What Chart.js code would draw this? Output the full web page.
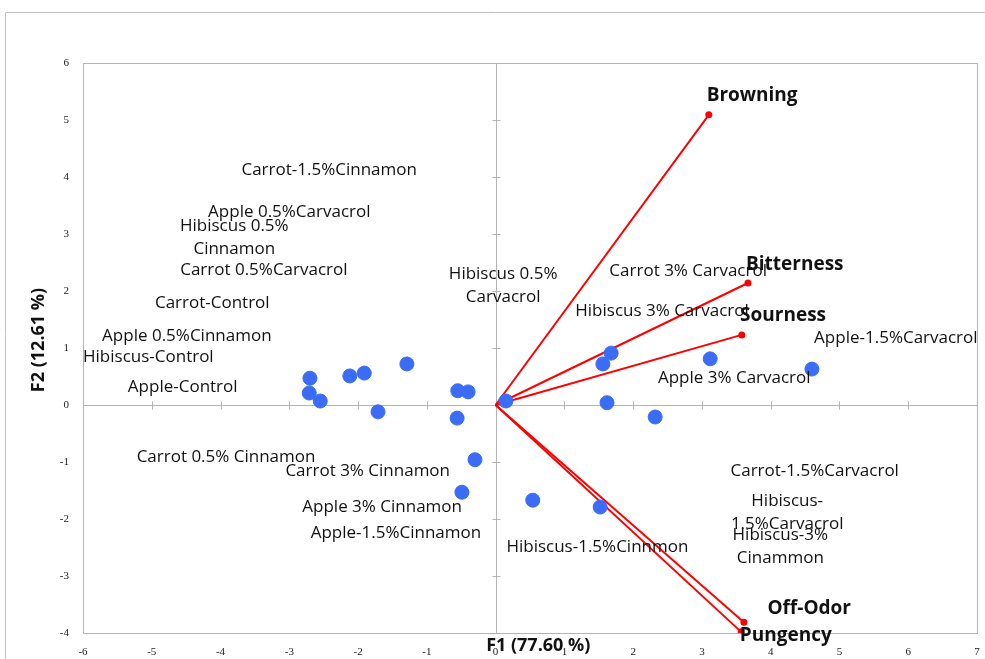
<!DOCTYPE html>
<html>
<head>
<meta charset="utf-8">
<script src="https://cdn.jsdelivr.net/npm/chart.js@4.4.1/dist/chart.umd.min.js"></script>
<style>
  html, body { margin: 0; padding: 0; background: #fff; }
</style>
</head>
<body>
<canvas id="biplot" width="985" height="659"></canvas>
<script>
// Observations (F1, F2 scores)
const obsX = [-2.70, -2.71, -2.55, -2.12, -1.91, -1.29, -1.71, -0.55, -0.40, -0.56, 0.15,
              1.68, 1.56, 3.12, 4.60, 1.62, 2.32, -0.30, -0.49, 0.54, 1.52];
const obsY = [0.47, 0.21, 0.07, 0.51, 0.56, 0.72, -0.12, 0.25, 0.23, -0.23, 0.07,
              0.91, 0.72, 0.81, 0.63, 0.04, -0.21, -0.96, -1.53, -1.67, -1.79];

// Variables (loading vectors)
const varNames = ['Browning', 'Bitterness', 'Sourness', 'Off-Odor', 'Pungency'];
const varX = [3.10, 3.67, 3.58, 3.61, 3.57];
const varY = [5.09, 2.14, 1.23, -3.81, -3.98];
const varLabelX = [3.73, 4.35, 4.18, 4.56, 4.22];
const varLabelY = [5.42, 2.47, 1.56, -3.58, -4.04];

// Sample labels (placed as in the original figure)
const sampleNames = [
  ['Carrot-1.5%Cinnamon'], ['Apple 0.5%Carvacrol'], ['Hibiscus 0.5%', 'Cinnamon'],
  ['Carrot 0.5%Carvacrol'], ['Carrot-Control'], ['Apple 0.5%Cinnamon'],
  ['Hibiscus-Control'], ['Apple-Control'], ['Carrot 0.5% Cinnamon'],
  ['Carrot 3% Cinnamon'], ['Apple 3% Cinnamon'], ['Apple-1.5%Cinnamon'],
  ['Hibiscus-1.5%Cinnmon'], ['Hibiscus 0.5%', 'Carvacrol'], ['Carrot 3% Carvacrol'],
  ['Hibiscus 3% Carvacrol'], ['Apple-1.5%Carvacrol'], ['Apple 3% Carvacrol'],
  ['Carrot-1.5%Carvacrol'], ['Hibiscus-', '1.5%Carvacrol'], ['Hibiscus-3%', 'Cinammon']
];
const sampleLabelX = [-2.42, -3.00, -3.80, -3.37, -4.12, -4.49, -5.05, -4.55, -3.92, -1.86, -1.65,
                      -1.45, 1.48, 0.11, 2.80, 2.42, 5.82, 3.47, 4.64, 4.24, 4.14];
const sampleLabelY = [4.12, 3.39, 3.14, 2.37, 1.79, 1.21, 0.84, 0.32, -0.91, -1.16, -1.79,
                      -2.25, -2.49, 2.30, 2.35, 1.65, 1.18, 0.47, -1.16, -1.68, -2.28];

const xTitle = 'F1 (77.60 %)';
const yTitle = 'F2 (12.61 %)';

const gridGrey = '#b4b4b4';

const datasets = [{
  label: 'Observations',
  data: obsX.map((x, i) => ({ x: x, y: obsY[i] })),
  backgroundColor: '#3a6cf6',
  borderColor: '#3a6cf6',
  pointRadius: 7,
  order: 0
}];
varNames.forEach((name, i) => {
  datasets.push({
    label: name,
    type: 'line',
    data: [{ x: 0, y: 0 }, { x: varX[i], y: varY[i] }],
    borderColor: '#ff0000',
    backgroundColor: '#ff0000',
    borderWidth: 2,
    pointRadius: [0, 2.5],
    showLine: true,
    order: 1
  });
});

// frame, zero axes and text
const biplotExtras = {
  id: 'biplotExtras',
  beforeDraw(chart) {
    const c = chart.ctx;
    c.save();
    c.strokeStyle = '#c0c0c0';
    c.lineWidth = 1;
    c.beginPath();
    c.moveTo(5.5, 659);
    c.lineTo(5.5, 12.5);
    c.lineTo(985, 12.5);
    c.stroke();
    c.restore();
  },
  beforeDatasetsDraw(chart) {
    const c = chart.ctx;
    const a = chart.chartArea;
    const xs = chart.scales.x, ys = chart.scales.y;
    c.save();
    c.strokeStyle = gridGrey;
    c.lineWidth = 1;
    c.strokeRect(Math.round(a.left) + 0.5, Math.round(a.top) + 0.5,
      Math.round(a.right - a.left), Math.round(a.bottom - a.top));
    const x0 = Math.round(xs.getPixelForValue(0)) + 0.5;
    const y0 = Math.round(ys.getPixelForValue(0)) + 0.5;
    c.beginPath();
    c.moveTo(x0, a.top); c.lineTo(x0, a.bottom);
    c.moveTo(a.left, y0); c.lineTo(a.right, y0);
    for (let v = -3; v <= 5; v++) {
      const py = Math.round(ys.getPixelForValue(v)) + 0.5;
      c.moveTo(x0 - 4, py); c.lineTo(x0 + 4, py);
    }
    for (let v = -5; v <= 6; v++) {
      const px = Math.round(xs.getPixelForValue(v)) + 0.5;
      c.moveTo(px, y0 - 4); c.lineTo(px, y0 + 4);
    }
    c.stroke();
    c.restore();
  },
  afterDatasetsDraw(chart) {
    const c = chart.ctx;
    const xs = chart.scales.x, ys = chart.scales.y;
    c.save();
    c.textAlign = 'center';
    c.textBaseline = 'middle';
    c.fillStyle = '#111';
    c.font = '17px "Open Sans"';
    sampleNames.forEach((lines, i) => {
      const px = xs.getPixelForValue(sampleLabelX[i]);
      const py = ys.getPixelForValue(sampleLabelY[i]);
      lines.forEach((t, k) => c.fillText(t, px, py + k * 23));
    });
    c.font = 'bold 19px "Open Sans"';
    varNames.forEach((t, i) => {
      c.fillText(t, xs.getPixelForValue(varLabelX[i]), ys.getPixelForValue(varLabelY[i]));
    });
    // axis titles
    c.font = 'bold 18px "Open Sans"';
    c.fillText(xTitle, xs.getPixelForValue(0.62), 646);
    c.translate(39, ys.getPixelForValue(1.14));
    c.rotate(-Math.PI / 2);
    c.fillText(yTitle, 0, 0);
    c.restore();
  }
};

new Chart(document.getElementById('biplot'), {
  type: 'scatter',
  data: { datasets: datasets },
  plugins: [biplotExtras],
  options: {
    responsive: false,
    animation: false,
    layout: { padding: { top: 63, right: 8, left: 0, bottom: 0 } },
    plugins: {
      legend: { display: false },
      tooltip: { enabled: false }
    },
    scales: {
      x: {
        type: 'linear',
        min: -6, max: 7,
        grid: { display: false, drawTicks: false },
        border: { display: false },
        ticks: { stepSize: 1, padding: 13, color: '#222', font: { family: 'Liberation Serif', size: 11 } },
        afterFit(s) { s.height = 26; s.paddingRight = 0; s.paddingLeft = 0; }
      },
      y: {
        type: 'linear',
        min: -4, max: 6,
        grid: { display: false, drawTicks: false },
        border: { display: false },
        ticks: { stepSize: 1, padding: 14, color: '#222', font: { family: 'Liberation Serif', size: 11 } },
        afterFit(s) { s.width = 83; s.paddingTop = 0; s.paddingBottom = 0; }
      }
    }
  }
});
</script>
</body>
</html>
